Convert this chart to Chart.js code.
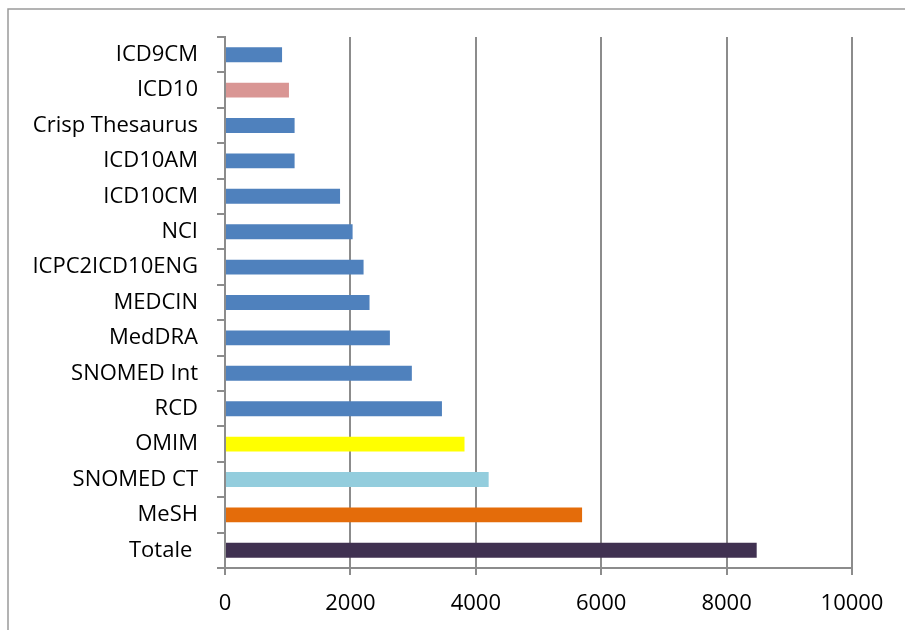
<!DOCTYPE html>
<html>
<head>
<meta charset="utf-8">
<script src="https://cdn.jsdelivr.net/npm/chart.js@4.4.1/dist/chart.umd.min.js"></script>
<style>
  html, body { margin: 0; padding: 0; background: #ffffff; }
  #wrap { width: 905px; height: 630px; position: relative; }
</style>
</head>
<body>
<div id="wrap"><canvas id="chart" width="905" height="630"></canvas></div>
<script>
// Terminologies, listed top to bottom
const categories = [
  'ICD9CM', 'ICD10', 'Crisp Thesaurus', 'ICD10AM', 'ICD10CM', 'NCI',
  'ICPC2ICD10ENG', 'MEDCIN', 'MedDRA', 'SNOMED Int', 'RCD', 'OMIM',
  'SNOMED CT', 'MeSH', 'Totale '
];
const counts = [
  910, 1020, 1110, 1110, 1835, 2035,
  2210, 2305, 2630, 2980, 3460, 3820,
  4205, 5695, 8480
];
const barColors = [
  '#4F81BD', '#D99694', '#4F81BD', '#4F81BD', '#4F81BD', '#4F81BD',
  '#4F81BD', '#4F81BD', '#4F81BD', '#4F81BD', '#4F81BD', '#FFFF00',
  '#93CDDD', '#E46C0A', '#403151'
];
const xTicks = [0, 2000, 4000, 6000, 8000, 10000];

const FONT = "'Open Sans', 'Liberation Sans', sans-serif";
const AXIS_GRAY = '#8c8c8c';

// Outer frame drawn around the whole chart
const framePlugin = {
  id: 'frame',
  beforeDraw(chart) {
    const ctx = chart.ctx;
    ctx.save();
    ctx.strokeStyle = '#9a9a9a';
    ctx.lineWidth = 1.5;
    ctx.beginPath();
    ctx.moveTo(8, 640);
    ctx.lineTo(8, 9);
    ctx.lineTo(905, 9);
    ctx.stroke();
    ctx.restore();
  }
};

new Chart(document.getElementById('chart'), {
  type: 'bar',
  data: {
    labels: categories,
    datasets: [{
      data: counts,
      backgroundColor: barColors,
      borderWidth: 0,
      categoryPercentage: 1.0,
      barPercentage: 0.42
    }]
  },
  options: {
    indexAxis: 'y',
    responsive: false,
    animation: false,
    layout: { padding: { left: 10, right: 53, top: 37, bottom: 0 } },
    plugins: {
      legend: { display: false },
      tooltip: { enabled: false }
    },
    scales: {
      x: {
        min: 0,
        max: 10000,
        afterBuildTicks(scale) {
          scale.ticks = xTicks.map(v => ({ value: v }));
        },
        afterFit(scale) { scale.height = 62; },
        border: { display: true, color: AXIS_GRAY, width: 2 },
        grid: {
          color: AXIS_GRAY,
          lineWidth: 2,
          drawTicks: true,
          tickLength: 7
        },
        ticks: {
          color: '#000000',
          font: { family: FONT, size: 22 },
          padding: 16,
          maxRotation: 0,
          callback: v => String(v)
        }
      },
      y: {
        afterFit(scale) { scale.width = 215; },
        border: { display: true, color: AXIS_GRAY, width: 2 },
        grid: {
          offset: true,
          drawOnChartArea: false,
          drawTicks: true,
          tickLength: 8,
          color: AXIS_GRAY,
          lineWidth: 2
        },
        ticks: {
          color: '#000000',
          font: { family: FONT, size: 22 },
          padding: 19,
          autoSkip: false
        }
      }
    }
  },
  plugins: [framePlugin]
});
</script>
</body>
</html>
